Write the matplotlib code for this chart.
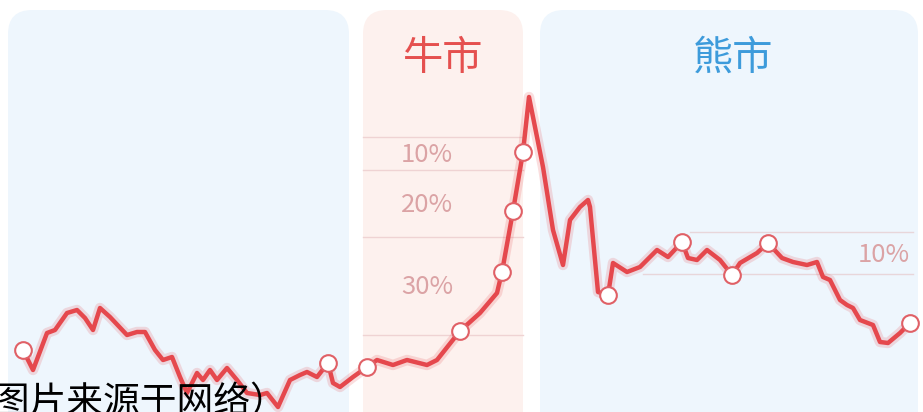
import matplotlib
matplotlib.use("Agg")
import matplotlib.pyplot as plt
from matplotlib.patches import FancyBboxPatch

plt.rcParams['font.family'] = ['Noto Sans CJK SC', 'DejaVu Sans']

# index path (x = time position, level = index height)
days = [23, 33, 47, 55, 67, 77, 85, 93, 100, 110, 127, 137, 145, 155, 163, 172,
        180, 187, 197, 203, 210, 217, 227, 237, 247, 260, 267, 278, 290, 300,
        307, 317, 328, 333, 340, 353, 367, 377, 393, 407, 427, 437, 460, 480,
        497, 502, 513, 523, 529, 543, 553, 563, 570, 580, 588, 590, 598, 608,
        613, 627, 640, 657, 668, 682, 688, 697, 707, 720, 732, 740, 757, 768,
        782, 793, 807, 817, 823, 830, 840, 847, 853, 860, 873, 880, 888, 900, 910]
levels = [62, 42, 79, 82, 99, 102, 94, 82, 104, 95, 77, 80, 80, 62, 52, 55,
          35, 19, 39, 32, 42, 32, 44, 32, 19, 17, 19, 5, 32, 37,
          40, 35, 49, 29, 25, 35, 45, 52, 47, 52, 47, 52, 81, 99,
          119, 140, 201, 260, 315, 245, 182, 147, 192, 205, 212, 205, 120, 117,
          149, 140, 145, 162, 155, 170, 154, 152, 162, 152, 137, 149, 159, 169,
          154, 150, 147, 150, 135, 132, 112, 107, 104, 92, 87, 70, 69, 79, 89]
marker_days = [23, 328, 367, 460, 502, 513, 523, 608, 682, 732, 768, 910]

# phase panels: (label, left, right, face colour, label colour, label x)
phases = [("", 8, 349, "#EEF6FD", None, 0),
          ("牛市", 363, 523, "#FDF1EE", "#E5504F", 443),
          ("熊市", 540, 918, "#EEF6FD", "#3D9BDB", 733)]

# drawdown guide lines
bull_guides = [275, 242, 175, 77]
bull_labels = [("10%", 257), ("20%", 207), ("30%", 125)]
bear_guides = [(180, 690, 913), (138, 643, 913)]
bear_labels = [("10%", 884, 157)]

fig = plt.figure(figsize=(9.23, 4.12), dpi=100)
ax = fig.add_axes([0, 0, 1, 1])
ax.set_xlim(0, 923)
ax.set_ylim(0, 412)
ax.axis('off')

top = 402
for label, x0, x1, face, tcol, tx in phases:
    ax.add_patch(FancyBboxPatch((x0, -60), x1 - x0, top + 60,
                                boxstyle="round,pad=0,rounding_size=24",
                                facecolor=face, edgecolor='none', zorder=0))
    if label:
        ax.text(tx, 354, label, color=tcol, fontsize=29,
                ha='center', va='center', zorder=1)

for g in bull_guides:
    ax.plot([363, 523], [g, g], color='#EFD3D3', lw=1, zorder=1)
for txt, y in bull_labels:
    ax.text(427, y, txt, color='#DBA3A5', fontsize=18.5, ha='center', va='center', zorder=1)
for g, xa, xb in bear_guides:
    ax.plot([xa, xb], [g, g], color='#E8D6DA', lw=1, zorder=1)
for txt, x, y in bear_labels:
    ax.text(x, y, txt, color='#DBA3A5', fontsize=18.5, ha='center', va='center', zorder=1)

idx = [days.index(d) for d in marker_days]
ax.plot(days, levels, color='#E5484D', lw=7.5, alpha=0.18, solid_joinstyle='round', zorder=2)
ax.plot(days, levels, color='#E5484D', lw=3.2, solid_joinstyle='round', zorder=3,
        marker='o', markevery=idx, markersize=12, markerfacecolor='white',
        markeredgecolor='#E06066', markeredgewidth=1.5)

ax.text(-44, 9, "（图片来源于网络）", color='black', fontsize=26.5,
        ha='left', va='center', zorder=5)

fig.savefig("out.png", dpi=100)
